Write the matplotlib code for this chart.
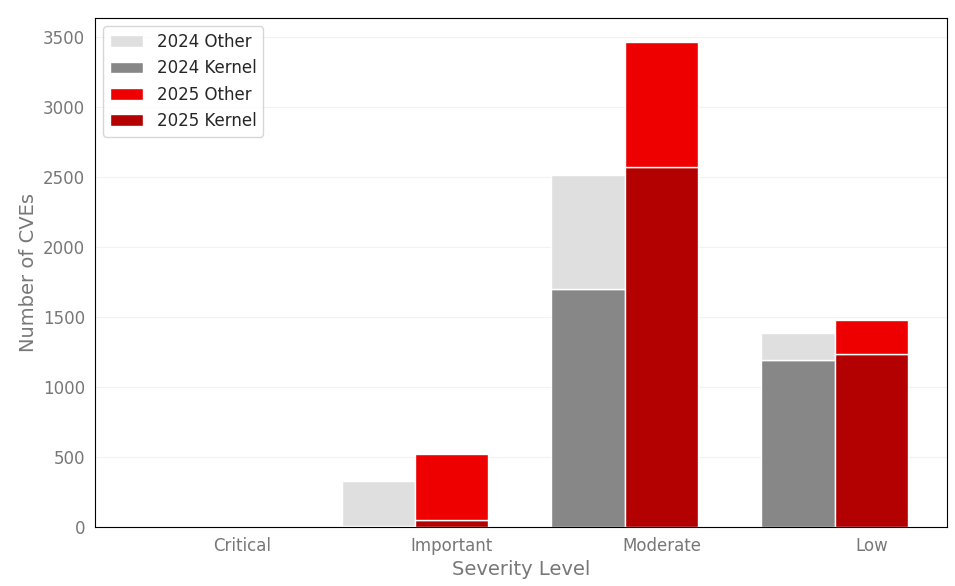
import numpy as np
import matplotlib.pyplot as plt
import seaborn as sns

severity = ["Critical", "Important", "Moderate", "Low"]
kernel_2024 = [3, 5, 1700, 1190]
total_2024 = [6, 330, 2515, 1385]
kernel_2025 = [2, 50, 2570, 1235]
total_2025 = [4, 525, 3465, 1480]

other_2024 = np.array(total_2024) - np.array(kernel_2024)
other_2025 = np.array(total_2025) - np.array(kernel_2025)

sns.set_style("white")
plt.rcParams['font.family'] = ['DejaVu Sans']

fig = plt.figure(figsize=(9.55, 5.86), dpi=100)
ax = fig.add_axes([95/955, 1-527/586, (947-95)/955, (527-18)/586])

x = np.arange(len(severity))
w = 0.35
ax.bar(x - w, kernel_2024, w, color="#878787", edgecolor="white", label="2024 Kernel", zorder=2)
ax.bar(x - w, other_2024, w, bottom=kernel_2024, color="#dfdfdf", edgecolor="white", label="2024 Other", zorder=2)
ax.bar(x, kernel_2025, w, color="#b30000", edgecolor="white", label="2025 Kernel", zorder=2)
ax.bar(x, other_2025, w, bottom=kernel_2025, color="#ee0000", edgecolor="white", label="2025 Other", zorder=2)

ax.set_xticks(x)
ax.set_xticklabels(severity)
ax.set_xlim(-0.70, 3.36)
ax.set_ylim(0, 3636)
ax.yaxis.grid(True, color="#f2f2f2", linewidth=0.8)
ax.tick_params(colors="#777777", labelsize=12)
for s in ax.spines.values():
    s.set_color("black")
ax.set_xlabel("Severity Level", fontsize=14, color="#777777")
ax.set_ylabel("Number of CVEs", fontsize=14, color="#777777")

h, l = ax.get_legend_handles_labels()
order = [1, 0, 3, 2]
ax.legend([h[i] for i in order], [l[i] for i in order], loc="upper left", fontsize=12, frameon=True)

fig.savefig("out.png", dpi=100)
